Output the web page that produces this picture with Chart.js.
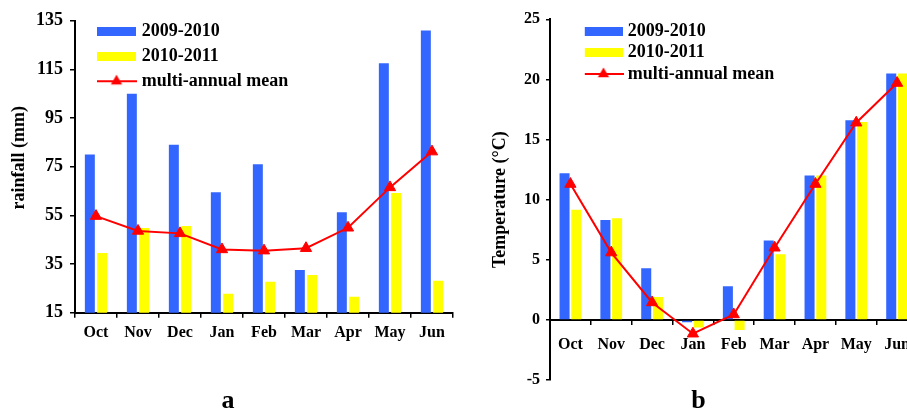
<!DOCTYPE html>
<html><head><meta charset="utf-8">
<script src="https://cdn.jsdelivr.net/npm/chart.js@4.4.0/dist/chart.umd.min.js"></script>
<style>
html,body{margin:0;padding:0;background:#fff;overflow:hidden;width:907px;height:412px;position:relative;}
#ca{position:absolute;left:0;top:0;}
#cb{position:absolute;left:470px;top:0;}
</style></head><body>
<canvas id="ca" width="470" height="412"></canvas>
<canvas id="cb" width="455" height="412"></canvas>
<script>
// ---- data ----
const months = ['Oct','Nov','Dec','Jan','Feb','Mar','Apr','May','Jun'];
const seriesLabels = ['2009-2010','2010-2011','multi-annual mean'];
const rain0910 = [80, 105, 84, 64.5, 76, 32.5, 56.3, 117.5, 131];
const rain1011 = [39.5, 49.8, 50.6, 22.8, 27.7, 30.5, 21.6, 64.2, 28.1];
const rainMean = [54.7, 48.6, 47.6, 41, 40.5, 41.5, 49.9, 66.5, 81.2];
const temp0910 = [12.2, 8.3, 4.3, -0.2, 2.8, 6.6, 12.0, 16.6, 20.5];
const temp1011 = [9.15, 8.45, 1.9, -0.63, -0.85, 5.45, 12.0, 16.45, 20.5];
const tempMean = [11.3, 5.6, 1.45, -1.15, 0.45, 6.0, 11.3, 16.4, 19.7];
const rainTicks = {min: 15, max: 135, step: 20};
const tempTicks = {min: -5, max: 25, step: 5};
const panelTitles = ['a', 'b'];
const yTitles = ['    rainfall (mm)', 'Temperature (°C)'];

const BLUE = '#3366ff', YELLOW = '#ffff00', RED = '#ff0000';

Chart.defaults.font.family = "'Liberation Serif', 'Times New Roman', serif";
Chart.defaults.font.weight = 'bold';
Chart.defaults.font.size = 16;
Chart.defaults.color = '#000';

function boxIcon(color){
  const c = document.createElement('canvas'); c.width = 39; c.height = 9;
  const x = c.getContext('2d'); x.fillStyle = color; x.fillRect(0,0,39,9); return c;
}
function lineIcon(){
  const c = document.createElement('canvas'); c.width = 40; c.height = 16;
  const x = c.getContext('2d');
  x.strokeStyle = RED; x.lineWidth = 2; x.beginPath(); x.moveTo(0,8); x.lineTo(40,8); x.stroke();
  const r = 6.5, s = Math.sin(2*Math.PI/3)*r;
  x.fillStyle = RED; x.beginPath(); x.moveTo(20, 8-r); x.lineTo(20+s, 8+r/2); x.lineTo(20-s, 8+r/2); x.closePath(); x.fill();
  return c;
}
const icons = [boxIcon(BLUE), boxIcon(YELLOW), lineIcon()];

function legendShift(dx, dy){
  return { id: 'legendShift', afterLayout(chart){
    const lg = chart.legend; if (!lg) return;
    const p = lg.options.labels.padding;
    lg.left = chart.chartArea.left + dx - p;
    lg.top = chart.chartArea.top + dy - p;
  }};
}

function makeChart(id, o){
  const axisGrid = (tl) => ({display:true, drawOnChartArea:false, drawTicks:true, tickLength:tl, color:'#000', lineWidth:1.5});
  const border = {display:true, color:'#000', width:2};
  const xScale = {
    grid: Object.assign(axisGrid(o.xTick), {offset:true}),
    border: border,
    ticks: {font:{size:16}, padding:o.xPad, color:'#000', maxRotation:0, autoSkip:false},
    afterFit(s){ s.height = o.xHeight; }
  };
  if (o.xPos) xScale.position = o.xPos;
  return new Chart(document.getElementById(id), {
    type: 'bar',
    data: {
      labels: months,
      datasets: [
        {type:'bar', label: seriesLabels[0], data: o.d0, backgroundColor: BLUE, borderWidth:0, order:2,
         categoryPercentage:o.cat, barPercentage:o.bar},
        {type:'bar', label: seriesLabels[1], data: o.d1, backgroundColor: YELLOW, borderWidth:0, order:2,
         categoryPercentage:o.cat, barPercentage:o.bar},
        {type:'line', label: seriesLabels[2], data: o.d2, borderColor: RED, backgroundColor: RED, borderWidth:2,
         pointStyle:'triangle', pointRadius:6.5, pointBackgroundColor:RED, pointBorderColor:RED, pointBorderWidth:1,
         tension:0, order:1}
      ]
    },
    options: {
      responsive:false, animation:false, events:[],
      layout: {padding: o.layoutPad},
      scales: {
        x: xScale,
        y: {
          min: o.ticks.min, max: o.ticks.max,
          ticks: {stepSize: o.ticks.step, font:{size:o.yFont}, padding:o.yPad, color:'#000'},
          grid: axisGrid(o.yTick),
          border: border,
          title: {display:true, text:o.yTitle, font:{size:18, weight:'bold'}, padding:{top:o.yTitlePad, bottom:0}, color:'#000'},
          afterFit(s){ s.width = o.yWidth; }
        }
      },
      plugins: {
        tooltip: {enabled:false},
        title: {display:true, position:'bottom', text:o.title, font:{size:26, weight:'bold', lineHeight:0.8},
                padding:{top:o.titlePad, bottom:0}, color:'#000'},
        legend: {
          display:true, position:'chartArea', align:'start',
          labels: {
            usePointStyle:true, pointStyleWidth:o.psw, padding:o.legPad, color:'#000',
            font:{size:18, weight:'bold'},
            generateLabels(chart){
              const items = Chart.defaults.plugins.legend.labels.generateLabels(chart);
              items.sort((a,b) => a.datasetIndex - b.datasetIndex);
              items.forEach(it => { it.pointStyle = icons[it.datasetIndex]; it.fontColor = '#000'; });
              return items;
            }
          }
        }
      }
    },
    plugins: [legendShift(o.legDx, o.legDy)]
  });
}

makeChart('ca', {
  d0: rain0910, d1: rain1011, d2: rainMean, ticks: rainTicks,
  yTitle: yTitles[0], title: panelTitles[0],
  cat: 0.586, bar: 0.81,
  layoutPad: {left:3, right:17, top:20.7, bottom:0},
  yWidth: 72, yFont: 18, yPad: 7, yTick: 5, yTitlePad: 5.7,
  xHeight: 60, xTick: 5, xPad: 5.7, titlePad: 18.5,
  psw: 32.4, legPad: 7, legDx: 25.3, legDy: 1.5
});
makeChart('cb', {
  d0: temp0910, d1: temp1011, d2: tempMean, ticks: tempTicks,
  yTitle: yTitles[1], title: panelTitles[1],
  cat: 0.574, bar: 0.855,
  layoutPad: {left:5.25, right:3.25, top:19.3, bottom:0},
  yWidth: 74.75, yFont: 16, yPad: 6, yTick: 4, yTitlePad: 13.95,
  xHeight: 0, xPos: {y: 0}, xTick: 4, xPad: 11, titlePad: 11.2,
  psw: 30.4, legPad: 3.5, legDx: 38.3, legDy: 2.7
});
</script>
</body></html>
